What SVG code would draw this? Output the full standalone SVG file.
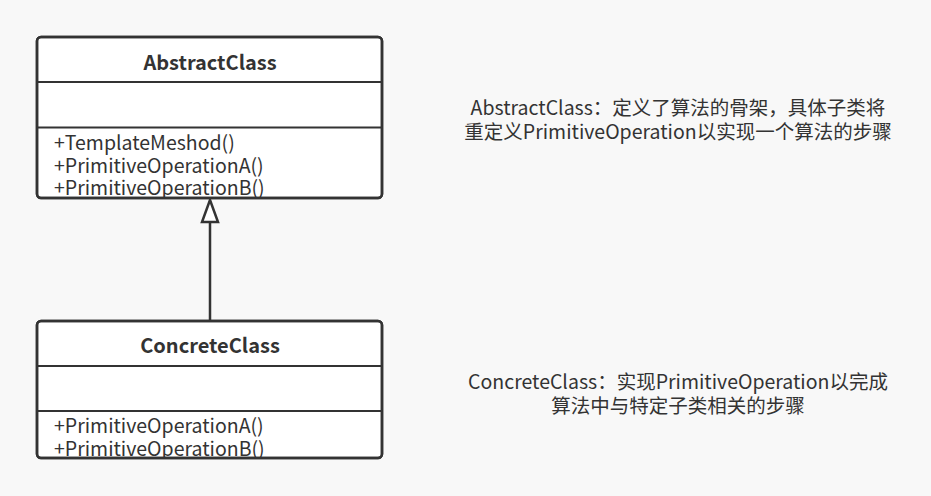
<svg xmlns="http://www.w3.org/2000/svg" width="931" height="496" viewBox="0 0 931 496">
<defs>
<clipPath id="c1"><rect x="38" y="38" width="343" height="159"/></clipPath>
<clipPath id="c2"><rect x="38" y="322" width="343" height="135"/></clipPath>
</defs>
<style>
.box{fill:#fff;stroke:#333;stroke-width:2.5}
.frame{fill:none;stroke:#333;stroke-width:2.5}
.div{stroke:#333;stroke-width:2}
.title{font-family:"Noto Sans CJK SC","Noto Sans",sans-serif;font-size:20px;font-weight:bold;fill:#333;text-anchor:middle}
.m{font-family:"Noto Sans CJK SC","Noto Sans",sans-serif;font-size:19.5px;fill:#333}
.note{font-family:"Noto Sans CJK SC","Noto Sans",sans-serif;font-size:19.5px;fill:#333;text-anchor:middle}
.edge{stroke:#333;stroke-width:2.5;fill:none}
</style>
<rect width="931" height="496" fill="#f8f8f8"/>
<g id="connectors">
<line class="edge" x1="210" y1="321" x2="210" y2="222"/>
<polygon points="210,200 202,222 218,222" fill="#fff" stroke="#333" stroke-width="2.5" stroke-linejoin="miter"/>
</g>
<g id="AbstractClass">
<rect class="box" x="37" y="37" width="345" height="161" rx="4"/>
<line class="div" x1="37" y1="82" x2="382" y2="82"/>
<line class="div" x1="37" y1="127.5" x2="382" y2="127.5"/>
<text class="title" x="210" y="70">AbstractClass</text>
<g clip-path="url(#c1)">
<text class="m" x="54" y="150">+TemplateMeshod()</text>
<text class="m" x="54" y="172.5">+PrimitiveOperationA()</text>
<text class="m" x="54" y="195">+PrimitiveOperationB()</text>
</g>
<rect class="frame" x="37" y="37" width="345" height="161" rx="4"/>
</g>
<g id="ConcreteClass">
<rect class="box" x="37" y="321" width="345" height="137" rx="4"/>
<line class="div" x1="37" y1="366" x2="382" y2="366"/>
<line class="div" x1="37" y1="411" x2="382" y2="411"/>
<text class="title" x="210" y="353">ConcreteClass</text>
<g clip-path="url(#c2)">
<text class="m" x="54" y="433">+PrimitiveOperationA()</text>
<text class="m" x="54" y="455.5">+PrimitiveOperationB()</text>
</g>
<rect class="frame" x="37" y="321" width="345" height="137" rx="4"/>
</g>
<g id="note1">
<text class="note" x="678" y="115">AbstractClass：定义了算法的骨架，具体子类将</text>
<text class="note" x="678" y="139">重定义PrimitiveOperation以实现一个算法的步骤</text>
</g>
<g id="note2">
<text class="note" x="678" y="389">ConcreteClass：实现PrimitiveOperation以完成</text>
<text class="note" x="678" y="413">算法中与特定子类相关的步骤</text>
</g>
</svg>
